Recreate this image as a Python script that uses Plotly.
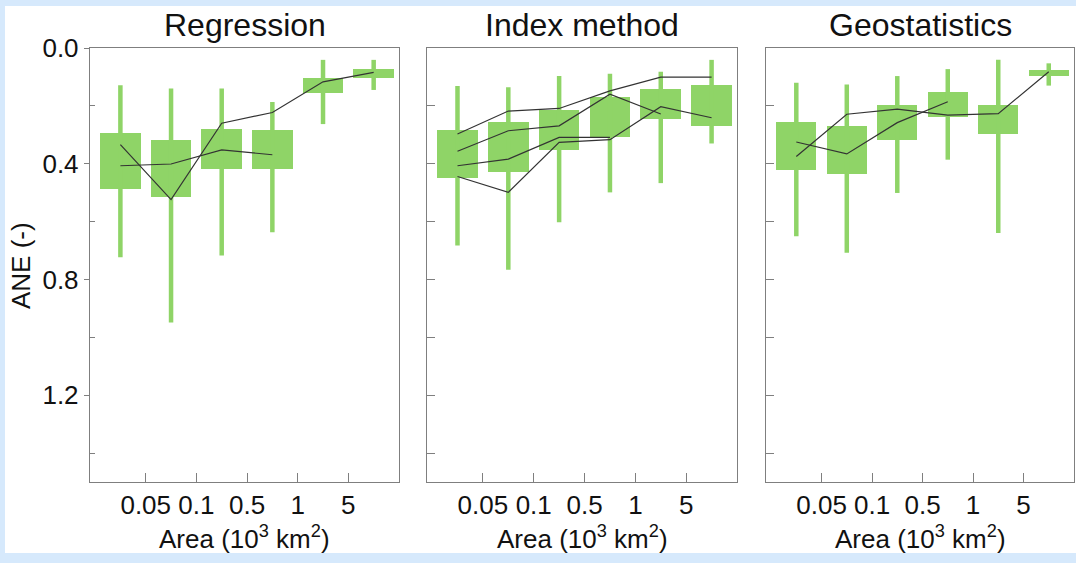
import plotly.graph_objects as go

# Area classes (10^3 km^2) – boxes sit between the class-boundary ticks
positions = [0, 1, 2, 3, 4, 5]
boundary_ticks = [0.5, 1.5, 2.5, 3.5, 4.5]
boundary_labels = ["0.05", "0.1", "0.5", "1", "5"]

panel_titles = ["Regression", "Index method", "Geostatistics"]

# ANE box statistics per method: lower whisker, Q1, Q3, upper whisker
reg_low = [0.129, 0.140, 0.140, 0.187, 0.041, 0.041]
reg_q1 = [0.295, 0.318, 0.280, 0.284, 0.103, 0.073]
reg_q3 = [0.486, 0.516, 0.417, 0.417, 0.156, 0.102]
reg_high = [0.723, 0.949, 0.717, 0.637, 0.263, 0.145]

idx_low = [0.131, 0.136, 0.097, 0.089, 0.082, 0.041]
idx_q1 = [0.285, 0.255, 0.215, 0.170, 0.141, 0.128]
idx_q3 = [0.449, 0.430, 0.351, 0.306, 0.245, 0.270]
idx_high = [0.683, 0.766, 0.602, 0.499, 0.467, 0.330]

geo_low = [0.120, 0.126, 0.097, 0.073, 0.041, 0.053]
geo_q1 = [0.257, 0.268, 0.197, 0.153, 0.197, 0.075]
geo_q3 = [0.423, 0.434, 0.317, 0.237, 0.297, 0.098]
geo_high = [0.651, 0.708, 0.501, 0.386, 0.639, 0.130]

# Individual study curves (ANE per area class)
reg_curve_a = [0.334, 0.524, 0.260, 0.223, 0.117, 0.084]
reg_curve_b = [0.407, 0.401, 0.352, 0.369]

idx_curve_a = [0.297, 0.218, 0.209, 0.148, 0.101, 0.101]
idx_curve_b = [0.357, 0.286, 0.269, 0.160, 0.228]
idx_curve_c = [0.407, 0.384, 0.309, 0.309]
idx_curve_d = [0.444, 0.499, 0.326, 0.317, 0.203, 0.241]

geo_curve_a = [0.325, 0.366, 0.258, 0.186]
geo_curve_b = [0.375, 0.229, 0.211, 0.232, 0.227, 0.082]

panels = [
    (reg_low, reg_q1, reg_q3, reg_high, [reg_curve_a, reg_curve_b]),
    (idx_low, idx_q1, idx_q3, idx_high, [idx_curve_a, idx_curve_b, idx_curve_c, idx_curve_d]),
    (geo_low, geo_q1, geo_q3, geo_high, [geo_curve_a, geo_curve_b]),
]

W, H = 1076, 563
GREEN = "#8fd467"
AXIS = "#7f7f7f"
FONT = "Liberation Sans, Arial, sans-serif"

# panel extents in pixels
x_px = [(90, 399), (427, 737), (766, 1074)]
y_top, y_bot = 48, 482


def px_x(v):
    return v / W


def px_y(v):
    return (H - v) / H


fig = go.Figure()

for k, (low, q1, q3, high, curves) in enumerate(panels):
    xa = "x" if k == 0 else f"x{k + 1}"
    ya = "y" if k == 0 else f"y{k + 1}"

    wx, wy = [], []
    for p, lo, hi in zip(positions, low, high):
        wx += [p, p, None]
        wy += [lo, hi, None]
    fig.add_trace(go.Scatter(x=wx, y=wy, mode="lines",
                             line=dict(color=GREEN, width=4.5),
                             hoverinfo="skip", showlegend=False,
                             xaxis=xa, yaxis=ya))

    fig.add_trace(go.Bar(x=positions,
                         y=[b - a for a, b in zip(q1, q3)],
                         base=q1, width=0.8,
                         marker=dict(color=GREEN, line=dict(width=0)),
                         showlegend=False, xaxis=xa, yaxis=ya))

    for c in curves:
        fig.add_trace(go.Scatter(x=positions[:len(c)], y=c, mode="lines",
                                 line=dict(color="#333333", width=1.2),
                                 showlegend=False, xaxis=xa, yaxis=ya))

layout = dict(
    width=W, height=H, autosize=False,
    margin=dict(l=0, r=0, t=0, b=0),
    paper_bgcolor="#d6e9fc",
    plot_bgcolor="white",
    font=dict(family=FONT, color="#111111"),
    bargap=0,
)

for k in range(3):
    xkey = "xaxis" if k == 0 else f"xaxis{k + 1}"
    ykey = "yaxis" if k == 0 else f"yaxis{k + 1}"
    xa = "x" if k == 0 else f"x{k + 1}"
    ya = "y" if k == 0 else f"y{k + 1}"
    x0, x1 = x_px[k]
    layout[xkey] = dict(
        domain=[px_x(x0), px_x(x1)], anchor=ya, automargin=False,
        range=[-0.6, 5.5], tickvals=boundary_ticks, ticktext=boundary_labels,
        ticks="inside", ticklen=9, tickcolor=AXIS, tickwidth=1.2,
        showline=True, linecolor=AXIS, linewidth=1.4, mirror=True,
        showgrid=False, zeroline=False, fixedrange=True,
        tickfont=dict(size=26, family=FONT, color="#111111"),
        ticklabelstandoff=0,
    )
    ydict = dict(
        domain=[px_y(y_bot), px_y(y_top)], anchor=xa, automargin=False,
        range=[1.5, 0],
        showline=True, linecolor=AXIS, linewidth=1.4, mirror=True,
        showgrid=False, zeroline=False, fixedrange=True,
    )
    if k == 0:
        ydict.update(
            tickvals=[0.0, 0.4, 0.8, 1.2], ticktext=["0.0", "0.4", "0.8", "1.2"],
            ticks="outside", ticklen=5, tickcolor=AXIS, tickwidth=1.2,
            tickfont=dict(size=26, family=FONT, color="#111111"),
            minor=dict(tickvals=[0.2, 0.6, 1.0, 1.4], ticks="inside",
                       ticklen=5, tickcolor=AXIS, tickwidth=1.2),
        )
    else:
        ydict.update(
            tickvals=[0.2, 0.4, 0.6, 0.8, 1.0, 1.2, 1.4],
            ticks="inside", ticklen=8, tickcolor=AXIS, tickwidth=1.2,
            showticklabels=False,
        )
    layout[ykey] = ydict

fig.update_layout(**layout)

# white figure area inside the light-blue frame
fig.add_shape(type="rect", xref="paper", yref="paper",
              x0=px_x(5), x1=1.0, y0=px_y(553), y1=px_y(6),
              fillcolor="white", line=dict(width=0), layer="below")

for k, title in enumerate(panel_titles):
    x0, x1 = x_px[k]
    cx = px_x((x0 + x1) / 2)
    fig.add_annotation(text=title, x=cx, y=px_y(25), xref="paper", yref="paper",
                       xanchor="center", yanchor="middle", showarrow=False,
                       font=dict(size=32, family=FONT, color="#111111"))
    fig.add_annotation(text="Area (10<sup>3</sup> km<sup>2</sup>)",
                       x=cx, y=px_y(537), xref="paper", yref="paper",
                       xanchor="center", yanchor="middle", showarrow=False,
                       font=dict(size=26, family=FONT, color="#111111"))

fig.add_annotation(text="ANE (-)", x=px_x(21), y=px_y(266), xref="paper", yref="paper",
                   xanchor="center", yanchor="middle", textangle=-90, showarrow=False,
                   font=dict(size=26, family=FONT, color="#111111"))

fig.write_html("out.html")
